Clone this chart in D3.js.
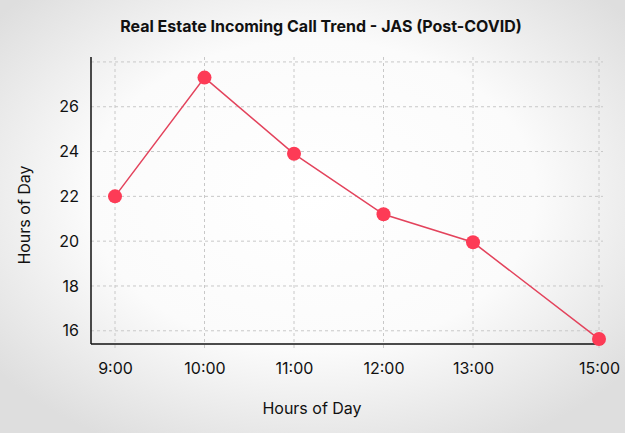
<!DOCTYPE html>
<html>
<head>
<meta charset="utf-8">
<script src="https://cdn.jsdelivr.net/npm/d3@7"></script>
<style>
  html, body { margin: 0; padding: 0; }
  body { width: 625px; height: 433px; overflow: hidden; }
  text { font-family: Inter, "Open Sans", sans-serif; fill: #111; }
</style>
</head>
<body>
<div id="chart"></div>
<script>
// data
var hours = [9, 10, 11, 12, 13, 15];
var hourLabels = ["9:00", "10:00", "11:00", "12:00", "13:00", "15:00"];
var calls = [22.0, 27.3, 23.9, 21.2, 19.95, 15.63];
var yTicks = [16, 18, 20, 22, 24, 26];
var yGrid = [16, 18, 20, 22, 24, 26, 28];

var width = 625, height = 433;
var margin = {top: 57, right: 22, bottom: 89, left: 91};
var chartWidth = width - margin.left - margin.right;
var chartHeight = height - margin.top - margin.bottom;

var svg = d3.select("#chart").append("svg")
  .attr("width", width)
  .attr("height", height);

// soft radial background
var grad = svg.append("defs").append("radialGradient")
  .attr("id", "bg")
  .attr("cx", "50%").attr("cy", "45%").attr("r", "65%");
grad.append("stop").attr("offset", "0%").attr("stop-color", "#ffffff");
grad.append("stop").attr("offset", "55%").attr("stop-color", "#fbfbfb");
grad.append("stop").attr("offset", "100%").attr("stop-color", "#dedede");

svg.append("rect")
  .attr("width", width).attr("height", height)
  .attr("fill", "url(#bg)");

var g = svg.append("g")
  .attr("transform", `translate(${margin.left}, ${margin.top})`);

// x positions are not evenly spaced in time (14:00 is missing and 15:00 sits closer)
var xScale = d3.scaleLinear()
  .domain([9, 13, 15])
  .range([24, 382, 508]);

var yScale = d3.scaleLinear()
  .domain([15.41, 28.22])
  .range([chartHeight, 0]);

// grid
g.append("g")
  .selectAll("line")
  .data(yGrid)
  .join("line")
    .attr("x1", 0)
    .attr("x2", chartWidth)
    .attr("y1", d => yScale(d))
    .attr("y2", d => yScale(d))
    .attr("stroke", "#c8c8c8")
    .attr("stroke-dasharray", "3,3");

g.append("g")
  .selectAll("line")
  .data(hours)
  .join("line")
    .attr("x1", d => xScale(d))
    .attr("x2", d => xScale(d))
    .attr("y1", 0)
    .attr("y2", chartHeight + 5)
    .attr("stroke", "#c8c8c8")
    .attr("stroke-dasharray", "3,3");

// axes
var xAxis = d3.axisBottom(xScale)
  .tickValues(hours)
  .tickFormat((d, i) => hourLabels[i])
  .tickSize(0)
  .tickPadding(19);

var yAxis = d3.axisLeft(yScale)
  .tickValues(yTicks)
  .tickSize(0)
  .tickPadding(12);

var xg = g.append("g")
  .attr("transform", `translate(0,${chartHeight})`)
  .call(xAxis);
xg.select(".domain").remove();
xg.selectAll("text").style("font-size", "16px").attr("fill", "#111");

var yg = g.append("g").call(yAxis);
yg.select(".domain").remove();
yg.selectAll("text").style("font-size", "16px").attr("fill", "#111");

g.append("line")
  .attr("x1", 0).attr("x2", chartWidth)
  .attr("y1", chartHeight).attr("y2", chartHeight)
  .attr("stroke", "#111").attr("stroke-width", 1.5);
g.append("line")
  .attr("x1", 0).attr("x2", 0)
  .attr("y1", 0).attr("y2", chartHeight)
  .attr("stroke", "#111").attr("stroke-width", 1.5);

// line + points
var line = d3.line()
  .x((d, i) => xScale(hours[i]))
  .y(d => yScale(d));

g.append("path")
  .datum(calls)
  .attr("d", line)
  .attr("fill", "none")
  .attr("stroke", "#e3435c")
  .attr("stroke-width", 1.5);

g.append("g")
  .selectAll("circle")
  .data(calls)
  .join("circle")
    .attr("cx", (d, i) => xScale(hours[i]))
    .attr("cy", d => yScale(d))
    .attr("r", 7)
    .attr("fill", "#fd3b56");

// titles
svg.append("text")
  .attr("x", 321)
  .attr("y", 32)
  .attr("text-anchor", "middle")
  .style("font-size", "16px")
  .style("font-weight", "bold")
  .text("Real Estate Incoming Call Trend - JAS (Post-COVID)");

svg.append("text")
  .attr("x", 312)
  .attr("y", 414)
  .attr("text-anchor", "middle")
  .style("font-size", "16px")
  .text("Hours of Day");

svg.append("text")
  .attr("transform", "translate(30, 215) rotate(-90)")
  .attr("text-anchor", "middle")
  .style("font-size", "16px")
  .text("Hours of Day");
</script>
</body>
</html>
